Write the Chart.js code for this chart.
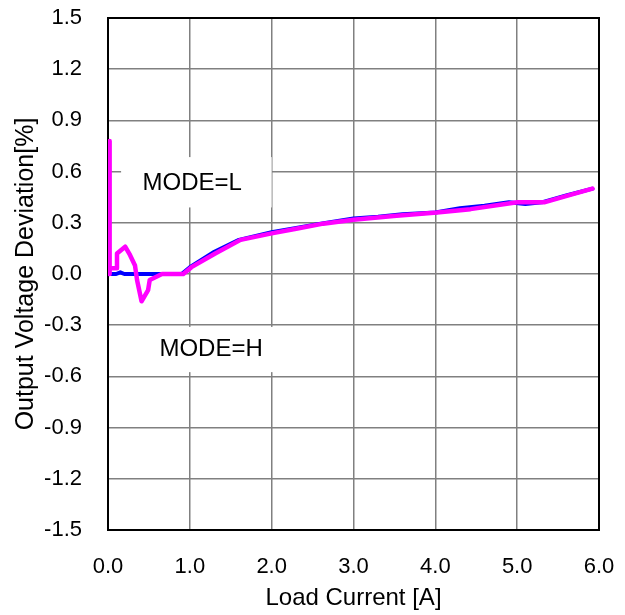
<!DOCTYPE html>
<html>
<head>
<meta charset="utf-8">
<script src="https://cdn.jsdelivr.net/npm/chart.js@4/dist/chart.umd.min.js"></script>
<style>
html,body{margin:0;padding:0;background:#fff;}
#wrap{width:625px;height:615px;}
</style>
</head>
<body>
<div id="wrap"><canvas id="c" width="625" height="615"></canvas></div>
<script>
// Data
const modeHX = [0, 0.1, 0.15, 0.2, 0.3, 0.5, 0.9, 1.0, 1.3, 1.6, 2.0, 2.3, 2.6, 3.0, 3.3, 3.6, 4.0, 4.3, 4.6, 4.9, 5.1, 5.3, 5.6, 5.92];
const modeHY = [0, 0.0, 0.01, 0.0, 0.0, 0.0, 0.0, 0.04, 0.13, 0.2, 0.245, 0.27, 0.295, 0.325, 0.335, 0.35, 0.36, 0.385, 0.4, 0.42, 0.41, 0.42, 0.46, 0.50];
const modeLX = [0.02, 0.02, 0.02, 0.11, 0.11, 0.21, 0.27, 0.33, 0.355, 0.41, 0.49, 0.51, 0.66, 0.92, 1.02, 1.31, 1.62, 2.0, 2.3, 2.63, 3.0, 3.49, 4.02, 4.43, 5.0, 5.33, 5.66, 5.92];
const modeLY = [0.78, 0.0, 0.033, 0.033, 0.12, 0.16, 0.11, 0.05, -0.035, -0.16, -0.094, -0.035, 0.0, 0.0, 0.04, 0.12, 0.2, 0.238, 0.265, 0.295, 0.318, 0.34, 0.36, 0.38, 0.42, 0.42, 0.465, 0.50];
const xTickLabels = ['0.0', '1.0', '2.0', '3.0', '4.0', '5.0', '6.0'];
const yTickLabels = ['-1.5', '-1.2', '-0.9', '-0.6', '-0.3', '0.0', '0.3', '0.6', '0.9', '1.2', '1.5'];
const xTitle = 'Load Current [A]';
const yTitle = 'Output Voltage Deviation[%]';
const labelL = 'MODE=L';
const labelH = 'MODE=H';

const FONT = "'Liberation Sans', Arial, sans-serif";

function pts(xs, ys) { return xs.map((x, i) => ({ x: x, y: ys[i] })); }

// white label boxes (data coordinates) and their text anchor
const boxes = [
  { text: labelL, x0: 0.16, x1: 2.0, y0: 0.685, y1: 0.39, tx: 1.03, ty: 0.53 },
  { text: labelH, x0: 0.39, x1: 2.23, y0: -0.31, y1: -0.575, tx: 1.26, ty: -0.44 }
];

const labelPlugin = {
  id: 'modeLabels',
  beforeDatasetsDraw(chart) {
    const { ctx, chartArea: a, scales: { x, y } } = chart;
    ctx.save();
    boxes.forEach(b => {
      const px0 = x.getPixelForValue(b.x0), px1 = x.getPixelForValue(b.x1);
      const py0 = y.getPixelForValue(b.y0), py1 = y.getPixelForValue(b.y1);
      ctx.fillStyle = '#ffffff';
      ctx.fillRect(px0, py0, px1 - px0, py1 - py0);
      ctx.fillStyle = '#000000';
      ctx.font = '24px ' + FONT;
      ctx.textAlign = 'center';
      ctx.textBaseline = 'middle';
      ctx.fillText(b.text, x.getPixelForValue(b.tx), y.getPixelForValue(b.ty));
    });
    ctx.strokeStyle = '#000';
    ctx.lineWidth = 2;
    ctx.strokeRect(a.left, a.top, a.right - a.left, a.bottom - a.top);
    ctx.restore();
  }
};

new Chart(document.getElementById('c'), {
  type: 'scatter',
  data: {
    datasets: [
      { label: labelL, order: 0, data: pts(modeLX, modeLY), showLine: true, borderColor: '#ff00ff', borderWidth: 4.5, borderJoinStyle: 'round', borderCapStyle: 'round', pointRadius: 0, tension: 0, fill: false },
      { label: labelH, order: 1, data: pts(modeHX, modeHY), showLine: true, borderColor: '#0000ff', borderWidth: 4, borderJoinStyle: 'round', borderCapStyle: 'round', pointRadius: 0, tension: 0, fill: false }
    ]
  },
  options: {
    responsive: false,
    animation: false,
    devicePixelRatio: 1,
    layout: { padding: { top: 18, right: 26, left: 0, bottom: 0 } },
    plugins: { legend: { display: false }, tooltip: { enabled: false } },
    scales: {
      x: {
        type: 'linear', min: 0, max: 6,
        ticks: { stepSize: 1, padding: 24, color: '#000', font: { family: FONT, size: 22 },
          callback: (v, i) => xTickLabels[i] },
        grid: { color: '#808080', lineWidth: 1.5, drawTicks: false },
        border: { color: '#000', width: 2 },
        title: { display: true, text: xTitle, color: '#000', font: { family: FONT, size: 24 }, padding: { top: 0, bottom: 2 } },
        afterFit(s) { s.height = 85; s.paddingLeft = 0; s.paddingRight = 0; }
      },
      y: {
        type: 'linear', min: -1.5, max: 1.5,
        ticks: { stepSize: 0.3, padding: 26, color: '#000', font: { family: FONT, size: 22 },
          callback: (v, i) => yTickLabels[i] },
        grid: { color: '#808080', lineWidth: 1.5, drawTicks: false },
        border: { color: '#000', width: 2 },
        title: { display: true, text: yTitle, color: '#000', font: { family: FONT, size: 25 }, padding: { top: 11, bottom: 0 } },
        afterFit(s) { s.width = 108; s.paddingTop = 0; s.paddingBottom = 0; }
      }
    }
  },
  plugins: [labelPlugin]
});
</script>
</body>
</html>
